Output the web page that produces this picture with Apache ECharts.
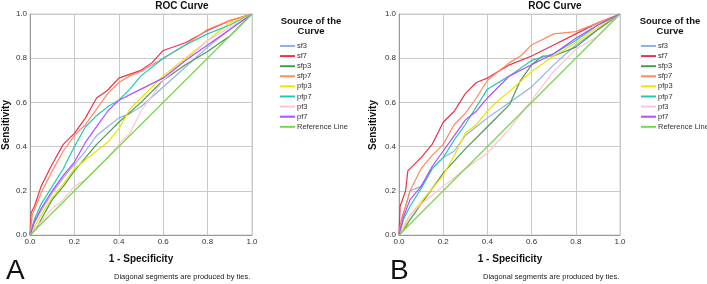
<!DOCTYPE html>
<html><head><meta charset="utf-8">
<script src="https://cdn.jsdelivr.net/npm/echarts@6/dist/echarts.min.js"></script>
<style>html,body{margin:0;padding:0;background:#fff}#c{width:707px;height:284px}</style>
</head><body><div id="c"></div>
<script>
const seriesNames = ['sf3','sf7','sfp3','sfp7','pfp3','pfp7','pf3','pf7','Reference Line'];
const colors = ['#8fb2ec','#e8334f','#4e9a4e','#ff8a5c','#ece300','#22c8b8','#ffc4d6','#b34dff','#74d84c'];
// Panel A curves: [1 - specificity, sensitivity]
const A_sf3  = [[0,0],[0.01,0.04],[0.05,0.11],[0.1,0.19],[0.15,0.26],[0.2,0.32],[0.25,0.38],[0.3,0.45],[0.35,0.49],[0.4,0.53],[0.45,0.55],[0.5,0.58],[0.6,0.67],[0.7,0.76],[0.8,0.85],[0.9,0.93],[1,1]];
const A_sf7  = [[0,0],[0.005,0.1],[0.02,0.13],[0.05,0.22],[0.1,0.32],[0.15,0.41],[0.2,0.46],[0.25,0.53],[0.3,0.62],[0.35,0.655],[0.4,0.71],[0.5,0.745],[0.55,0.78],[0.6,0.835],[0.7,0.87],[0.8,0.925],[0.9,0.97],[1,1]];
const A_sfp3 = [[0,0],[0.03,0.03],[0.05,0.07],[0.1,0.16],[0.15,0.22],[0.2,0.29],[0.25,0.35],[0.3,0.41],[0.35,0.46],[0.4,0.51],[0.5,0.6],[0.6,0.7],[0.7,0.77],[0.8,0.83],[0.9,0.9],[0.95,0.95],[1,1]];
const A_sfp7 = [[0,0],[0.01,0.09],[0.05,0.19],[0.1,0.29],[0.15,0.38],[0.2,0.45],[0.25,0.5],[0.3,0.57],[0.35,0.64],[0.4,0.69],[0.45,0.72],[0.5,0.74],[0.6,0.8],[0.7,0.86],[0.8,0.93],[0.9,0.97],[1,1]];
const A_pfp3 = [[0,0],[0.02,0.04],[0.05,0.09],[0.1,0.17],[0.15,0.23],[0.2,0.3],[0.3,0.38],[0.35,0.42],[0.4,0.48],[0.45,0.57],[0.5,0.62],[0.6,0.72],[0.7,0.8],[0.8,0.88],[0.9,0.96],[1,1]];
const A_pfp7 = [[0,0],[0.02,0.07],[0.05,0.14],[0.1,0.22],[0.15,0.3],[0.2,0.4],[0.25,0.49],[0.3,0.54],[0.35,0.58],[0.4,0.61],[0.45,0.66],[0.5,0.72],[0.6,0.8],[0.7,0.86],[0.8,0.91],[0.9,0.95],[1,1]];
const A_pf3  = [[0,0],[0.02,0.03],[0.05,0.06],[0.1,0.12],[0.15,0.16],[0.2,0.22],[0.25,0.25],[0.3,0.3],[0.35,0.35],[0.4,0.41],[0.45,0.46],[0.5,0.56],[0.6,0.7],[0.7,0.79],[0.8,0.88],[0.9,0.94],[1,1]];
const A_pf7  = [[0,0],[0.02,0.06],[0.05,0.12],[0.1,0.2],[0.15,0.27],[0.2,0.33],[0.25,0.42],[0.3,0.49],[0.35,0.56],[0.4,0.61],[0.5,0.66],[0.6,0.71],[0.7,0.79],[0.8,0.86],[0.9,0.93],[1,1]];
// Panel B curves
const B_sf3  = [[0,0],[0.01,0.06],[0.03,0.13],[0.05,0.2],[0.1,0.22],[0.15,0.3],[0.2,0.35],[0.25,0.38],[0.3,0.45],[0.35,0.49],[0.4,0.53],[0.5,0.6],[0.6,0.67],[0.7,0.77],[0.8,0.86],[0.9,0.93],[1,1]];
const B_sf7  = [[0,0],[0.005,0.13],[0.03,0.2],[0.04,0.29],[0.1,0.35],[0.15,0.41],[0.2,0.51],[0.25,0.56],[0.3,0.64],[0.35,0.69],[0.4,0.71],[0.5,0.77],[0.6,0.81],[0.7,0.86],[0.8,0.91],[0.9,0.96],[1,1]];
const B_sfp3 = [[0,0],[0.02,0.02],[0.05,0.07],[0.1,0.14],[0.2,0.28],[0.3,0.39],[0.4,0.49],[0.5,0.59],[0.55,0.7],[0.6,0.77],[0.65,0.81],[0.7,0.81],[0.8,0.85],[0.9,0.93],[1,1]];
const B_sfp7 = [[0,0],[0.01,0.07],[0.03,0.13],[0.05,0.2],[0.1,0.3],[0.15,0.36],[0.2,0.41],[0.25,0.5],[0.3,0.55],[0.35,0.62],[0.4,0.7],[0.45,0.74],[0.5,0.78],[0.55,0.81],[0.6,0.86],[0.7,0.91],[0.8,0.92],[0.9,0.96],[1,1]];
const B_pfp3 = [[0,0],[0.02,0.03],[0.05,0.09],[0.1,0.15],[0.15,0.21],[0.2,0.27],[0.25,0.36],[0.3,0.46],[0.35,0.5],[0.4,0.56],[0.45,0.61],[0.5,0.65],[0.6,0.74],[0.7,0.81],[0.8,0.87],[0.9,0.94],[1,1]];
const B_pfp7 = [[0,0],[0.02,0.07],[0.05,0.13],[0.1,0.21],[0.15,0.3],[0.2,0.35],[0.25,0.43],[0.3,0.5],[0.35,0.58],[0.4,0.66],[0.5,0.72],[0.6,0.79],[0.7,0.82],[0.8,0.88],[0.9,0.95],[1,1]];
const B_pf3  = [[0,0],[0.02,0.04],[0.05,0.09],[0.1,0.14],[0.15,0.18],[0.2,0.22],[0.3,0.3],[0.4,0.37],[0.5,0.48],[0.6,0.61],[0.7,0.74],[0.8,0.84],[0.9,0.9],[1,1]];
const B_pf7  = [[0,0],[0.02,0.08],[0.05,0.16],[0.1,0.22],[0.15,0.31],[0.2,0.38],[0.25,0.45],[0.3,0.52],[0.35,0.56],[0.4,0.62],[0.5,0.72],[0.6,0.77],[0.7,0.82],[0.8,0.89],[0.9,0.95],[1,1]];
const refLine = [[0,0],[1,1]];
const tickValues = [0,0.2,0.4,0.6,0.8,1.0];

const A = [A_sf3,A_sf7,A_sfp3,A_sfp7,A_pfp3,A_pfp7,A_pf3,A_pf7,refLine];
const B = [B_sf3,B_sf7,B_sfp3,B_sfp7,B_pfp3,B_pfp7,B_pf3,B_pf7,refLine];

const FONT = 'Liberation Sans, Arial, sans-serif';
function axis(gi){
  return {
    type:'value', gridIndex:gi, min:0, max:1, interval:0.2,
    axisLine:{show:true, lineStyle:{color:'#9a9a9a', width:1}},
    axisTick:{show:false},
    splitLine:{show:true, lineStyle:{color:'#c9c9c9', width:1}},
    axisLabel:{fontSize:8, color:'#333', fontFamily:FONT, margin:3, formatter:v=>v.toFixed(1)}
  };
}
const series = [];
[A,B].forEach((panel,gi)=>{
  panel.forEach((d,i)=>{
    series.push({type:'line', name:seriesNames[i], xAxisIndex:gi, yAxisIndex:gi, data:d,
      showSymbol:false, symbol:'none', animation:false,
      lineStyle:{color:colors[i], width:1.2}, itemStyle:{color:colors[i]}});
  });
});
function legend(left){
  return {left:left, top:36, orient:'vertical', icon:'rect', itemWidth:15, itemHeight:2, itemGap:0.1,
    data:seriesNames, textStyle:{fontSize:7.5, color:'#333', fontFamily:FONT, lineHeight:10, padding:[0,0,0,-3]}, selectedMode:false};
}
function txt(x,y,s,opt){return Object.assign({type:'text', x:x, y:y, style:Object.assign({text:s, fill:'#111', font:'bold 10px '+FONT}, opt||{})});}
const chart = echarts.init(document.getElementById('c'), null, {renderer:'canvas'});
chart.setOption({
  animation:false,
  grid:[{left:30, top:14, width:222, height:221, show:true, borderColor:'#cfcfcf', borderWidth:1},
        {left:399, top:14, width:221, height:221, show:true, borderColor:'#cfcfcf', borderWidth:1}],
  xAxis:[axis(0), axis(1)],
  yAxis:[axis(0), axis(1)],
  legend:[legend(275), legend(636)],
  series:series,
  graphic:[
    txt(182,6,'ROC Curve',{textAlign:'center', textVerticalAlign:'middle'}),
    txt(555,6,'ROC Curve',{textAlign:'center', textVerticalAlign:'middle'}),
    txt(311,26,'Source of the\nCurve',{textAlign:'center', textVerticalAlign:'middle', font:'bold 9.5px '+FONT, lineHeight:10}),
    txt(670,26,'Source of the\nCurve',{textAlign:'center', textVerticalAlign:'middle', font:'bold 9.5px '+FONT, lineHeight:10}),
    {type:'text', x:6, y:125, rotation:Math.PI/2, style:{text:'Sensitivity', fill:'#111', font:'bold 10px '+FONT, textAlign:'center', textVerticalAlign:'middle'}},
    {type:'text', x:373, y:125, rotation:Math.PI/2, style:{text:'Sensitivity', fill:'#111', font:'bold 10px '+FONT, textAlign:'center', textVerticalAlign:'middle'}},
    txt(141,259,'1 - Specificity',{textAlign:'center', textVerticalAlign:'middle'}),
    txt(510,259,'1 - Specificity',{textAlign:'center', textVerticalAlign:'middle'}),
    txt(114,277,'Diagonal segments are produced by ties.',{textVerticalAlign:'middle', font:'7.5px '+FONT, fill:'#222'}),
    txt(483,277,'Diagonal segments are produced by ties.',{textVerticalAlign:'middle', font:'7.5px '+FONT, fill:'#222'}),
    txt(6,271,'A',{textVerticalAlign:'middle', font:'28px '+FONT, fill:'#111'}),
    txt(390,271,'B',{textVerticalAlign:'middle', font:'28px '+FONT, fill:'#111'})
  ]
});
</script></body></html>
